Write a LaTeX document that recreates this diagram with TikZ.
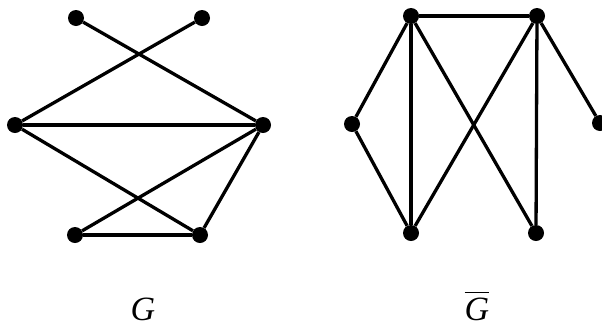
\documentclass[tikz,border=0pt]{standalone}
\usepackage{fontspec}
\setmainfont{Liberation Serif}
\usetikzlibrary{positioning}

\begin{document}
\begin{tikzpicture}[
    x=1pt, y=-1pt,
    vertex/.style={circle, fill=black, inner sep=0pt, minimum size=16pt},
    edge/.style={line width=3.3pt},
    graphname/.style={anchor=base, inner sep=0pt, font=\fontsize{34}{40}\selectfont}
]
\useasboundingbox (0,0) rectangle (602,325);
% graph G
\node[vertex] (gtl) at (76,18) {};
\node[vertex] (gtr) at (202,18) {};
\node[vertex] (gl) at (15,125) {};
\node[vertex] (gr) at (263,125) {};
\node[vertex] (gbl) at (75,235) {};
\node[vertex] (gbr) at (200,235) {};
\draw[edge] (gtl) -- (gr);
\draw[edge] (gtr) -- (gl);
\draw[edge] (gl) -- (gr);
\draw[edge] (gl) -- (gbr);
\draw[edge] (gr) -- (gbl);
\draw[edge] (gr) -- (gbr);
\draw[edge] (gbl) -- (gbr);
% complement of G
\node[vertex] (htl) at (411,16) {};
\node[vertex] (htr) at (537,16) {};
\node[vertex] (hl) at (352,124) {};
\node[vertex] (hr) at (600,123) {};
\node[vertex] (hbl) at (411,233) {};
\node[vertex] (hbr) at (536,233) {};
\draw[edge] (htl) -- (htr);
\draw[edge] (htl) -- (hl);
\draw[edge] (hl) -- (hbl);
\draw[edge] (htl) -- (hbl);
\draw[edge] (htl) -- (hbr);
\draw[edge] (htr) -- (hbl);
\draw[edge] (htr) -- (hbr);
\draw[edge] (htr) -- (hr);
% labels
\node[graphname] (gname) at (143,320) {\textit{G}};
\node[graphname] (hname) at (477,320) {$\overline{\rule{0pt}{26pt}\mbox{\textit{G}}}$};
\end{tikzpicture}
\end{document}
